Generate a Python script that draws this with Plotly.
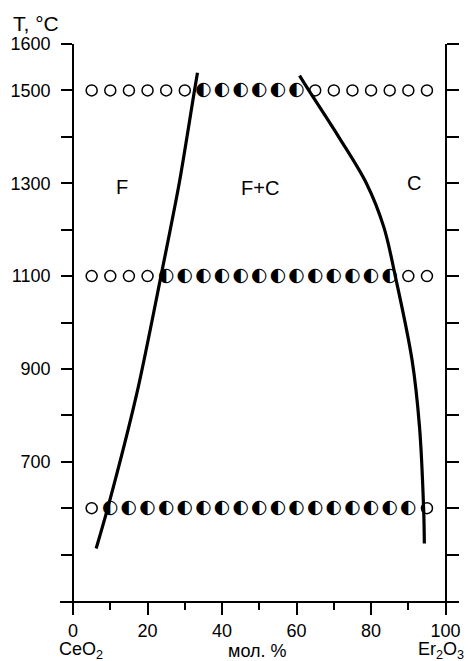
import plotly.graph_objects as go

# ---- data ----
compositions = [5, 10, 15, 20, 25, 30, 35, 40, 45, 50, 55, 60, 65, 70, 75, 80, 85, 90, 95]
row_temps = [600, 1100, 1500]
# two-phase (half-filled) compositions per isotherm
half_600 = [10, 15, 20, 25, 30, 35, 40, 45, 50, 55, 60, 65, 70, 75, 80, 85, 90]
half_1100 = [25, 30, 35, 40, 45, 50, 55, 60, 65, 70, 75, 80, 85]
half_1500 = [35, 40, 45, 50, 55, 60]

# phase boundaries
f_boundary_T = [513, 600, 850, 1100, 1300, 1500, 1538]
f_boundary_x = [6.2, 9.3, 17.2, 23.6, 28.5, 32.6, 33.4]
c_boundary_T = [524, 600, 775, 919, 1100, 1206, 1299, 1400, 1500, 1532]
c_boundary_x = [94.3, 94.1, 93.0, 91.0, 86.5, 83.4, 78.8, 71.3, 63.3, 60.8]

x_ticks = [0, 20, 40, 60, 80, 100]
x_minor = [10, 30, 50, 70, 90]
y_ticks = [500, 600, 700, 800, 900, 1000, 1100, 1200, 1300, 1400, 1500, 1600]
y_labels = ["", "", "700", "", "900", "", "1100", "", "1300", "", "1500", "1600"]

# ---- build point lists ----
halves = {600: half_600, 1100: half_1100, 1500: half_1500}
open_x, open_y, half_x, half_y = [], [], [], []
for T in row_temps:
    for c in compositions:
        if c in halves[T]:
            half_x.append(c); half_y.append(T)
        else:
            open_x.append(c); open_y.append(T)

XR = [-3.5, 103.6]
span = XR[1] - XR[0]
pos0 = (0 - XR[0]) / span
pos100 = (100 - XR[0]) / span

FONT = "Liberation Sans, Arial, sans-serif"

fig = go.Figure()
fig.add_trace(go.Scatter(x=f_boundary_x, y=f_boundary_T, mode="lines",
                         line=dict(color="black", width=3.2, shape="spline", smoothing=0.8),
                         hoverinfo="skip", showlegend=False))
fig.add_trace(go.Scatter(x=c_boundary_x, y=c_boundary_T, mode="lines",
                         line=dict(color="black", width=3.2, shape="spline", smoothing=1.0),
                         hoverinfo="skip", showlegend=False, yaxis="y2"))
fig.add_trace(go.Scatter(x=open_x, y=open_y, mode="markers",
                         marker=dict(symbol="circle", size=11, color="white",
                                     line=dict(color="black", width=1.5)),
                         showlegend=False, cliponaxis=False))
fig.add_trace(go.Scatter(x=half_x, y=half_y, mode="text", text=["◐"] * len(half_x),
                         textposition="middle center",
                         textfont=dict(family="DejaVu Sans", size=19, color="black"),
                         showlegend=False, cliponaxis=False))

axis_common = dict(showgrid=False, zeroline=False, showline=True, linecolor="black",
                   linewidth=2, ticks="outside", tickcolor="black", tickwidth=2,
                   automargin=False)

# page is rendered with an 8px body offset, so the figure is 8px smaller
fig.update_layout(
    width=464, height=653,
    margin=dict(l=52, r=13, t=36, b=60),
    paper_bgcolor="white", plot_bgcolor="white",
    font=dict(family=FONT, size=18, color="black"),
    xaxis=dict(range=XR, tickvals=x_ticks, ticklen=12, ticklabelstandoff=0,
               tickfont=dict(size=18), minor=dict(tickvals=x_minor, ticks="outside", ticklen=7,
                                                   tickwidth=2, tickcolor="black"),
               **axis_common),
    yaxis=dict(range=[400, 1600], anchor="free", position=pos0, tickvals=y_ticks,
               ticktext=y_labels, ticklen=11, ticklabelstandoff=7,
               tickfont=dict(size=18), **axis_common),
    yaxis2=dict(range=[400, 1600], anchor="free", position=pos100, overlaying="y",
                side="right", tickvals=y_ticks, showticklabels=False, ticklen=12,
                **axis_common),
    annotations=[
        dict(text="T, °C", xref="paper", yref="paper", x=(11 - 60) / 399, y=(601 - 23) / 557,
             xanchor="left", yanchor="middle", showarrow=False, font=dict(size=21)),
        dict(text="F", xref="x", yref="y", x=13.2, y=1292, showarrow=False, font=dict(size=20)),
        dict(text="F+C", xref="x", yref="y", x=50.2, y=1289, showarrow=False, font=dict(size=20)),
        dict(text="C", xref="x", yref="y", x=91.4, y=1300, showarrow=False, font=dict(size=20)),
        dict(text="CeO<sub>2</sub>", xref="x", yref="paper", x=2.2, y=(601 - 650) / 557,
             xanchor="center", yanchor="middle", showarrow=False, font=dict(size=18)),
        dict(text="мол. %", xref="x", yref="paper", x=49.4, y=(601 - 651) / 557,
             xanchor="center", yanchor="middle", showarrow=False, font=dict(size=18)),
        dict(text="Er<sub>2</sub>O<sub>3</sub>", xref="x", yref="paper", x=92.1,
             y=(601 - 650) / 557, xanchor="left", yanchor="middle", showarrow=False,
             font=dict(size=18)),
    ],
)

fig.write_html("out.html")
